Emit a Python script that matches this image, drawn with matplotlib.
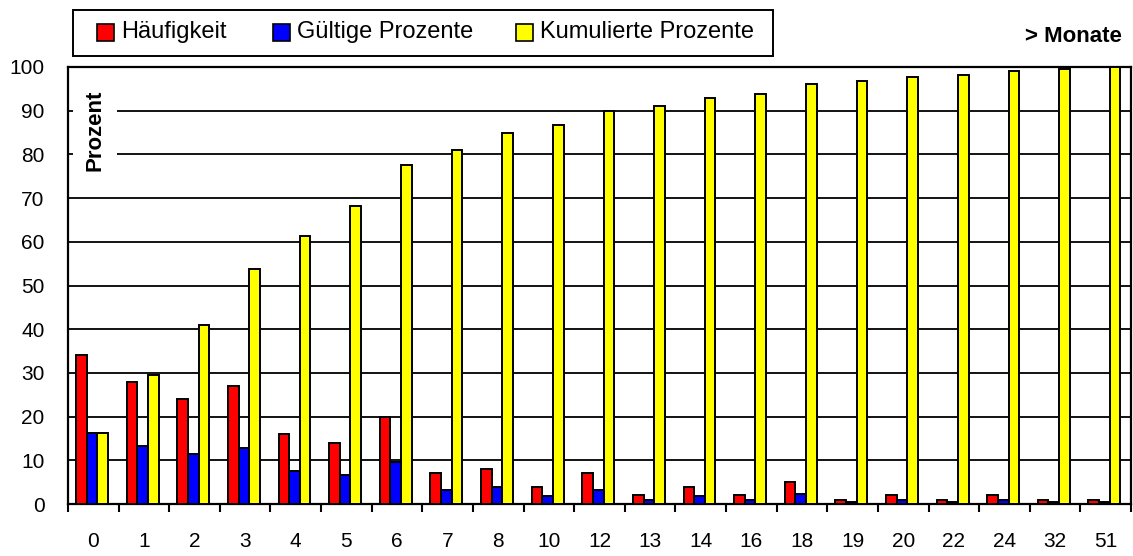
import numpy as np
import matplotlib
matplotlib.use("Agg")
import matplotlib.pyplot as plt
from matplotlib.patches import Rectangle

plt.rcParams['font.family'] = ['Liberation Sans Narrow', 'Liberation Sans', 'DejaVu Sans']

# Monate (Kategorien auf der x-Achse)
months = ["0", "1", "2", "3", "4", "5", "6", "7", "8", "10", "12",
          "13", "14", "16", "18", "19", "20", "22", "24", "32", "51"]

# Häufigkeit (rote Balken)
haeufigkeit = [34, 28, 24, 27, 16, 14, 20, 7, 8, 4, 7,
               2, 4, 2, 5, 1, 2, 1, 2, 1, 1]

# Gültige Prozente (blaue Balken)
gueltige = [16.2, 13.3, 11.4, 12.9, 7.6, 6.7, 9.5, 3.3, 3.8, 1.9, 3.3,
            1.0, 1.9, 1.0, 2.4, 0.5, 1.0, 0.5, 1.0, 0.5, 0.5]

# Kumulierte Prozente (gelbe Balken)
kumuliert = [16.2, 29.5, 41.0, 53.8, 61.4, 68.1, 77.6, 81.0, 84.8, 86.7, 90.0,
             91.0, 92.9, 93.8, 96.2, 96.7, 97.6, 98.1, 99.0, 99.5, 100.0]

series = [
    ("Häufigkeit", haeufigkeit, "#ff0000"),
    ("Gültige Prozente", gueltige, "#0000ff"),
    ("Kumulierte Prozente", kumuliert, "#ffff00"),
]

W, H = 1133, 556
fig = plt.figure(figsize=(W / 100, H / 100), dpi=100)
ax = fig.add_axes([68 / W, 1 - 504 / H, (1131 - 68) / W, (504 - 67) / H])

x = np.arange(len(months))
w = 0.21
for i, (name, vals, col) in enumerate(series):
    ax.bar(x + (i - 1) * w - 0.025, vals, width=w, color=col,
           edgecolor="black", linewidth=1.4, zorder=3)

ax.set_xlim(-0.5, len(months) - 0.5)
ax.set_ylim(0, 100)

# Gitternetz
for yv in range(10, 100, 10):
    ax.axhline(yv, color="black", linewidth=1.3, zorder=1)

ax.set_yticks(range(0, 101, 10))
ax.tick_params(axis="y", length=0, pad=17, labelsize=15)

# Teilstriche an den Kategoriegrenzen, Beschriftung in der Mitte
ax.set_xticks(np.arange(-0.5, len(months), 1))
ax.set_xticklabels([])
ax.tick_params(axis="x", which="major", direction="out", length=6, width=1.5)
ax.set_xticks(x, minor=True)
ax.set_xticklabels(months, minor=True)
ax.tick_params(axis="x", which="minor", length=0, pad=20, labelsize=15)

for s in ax.spines.values():
    s.set_linewidth(1.6)

ax.text(0.0254, 0.854, "Prozent", transform=ax.transAxes, rotation=90,
        ha="center", va="center", fontsize=16, fontweight="bold", zorder=2,
        bbox=dict(facecolor="white", edgecolor="none", pad=8))

fig.text(1122 / W, 1 - 37 / H, "> Monate", ha="right", va="center",
         fontsize=16, fontweight="bold")

# Legende von Hand gesetzt (Rahmen, Farbfelder, Texte)
fig.patches.append(Rectangle((73 / W, 1 - 56 / H), (773 - 73) / W, 46 / H,
                             transform=fig.transFigure, facecolor="white",
                             edgecolor="black", linewidth=1.4))
leg_x = [97, 273, 516]
for (name, _, col), lx in zip(series, leg_x):
    fig.patches.append(Rectangle((lx / W, 1 - 41 / H), 17 / W, 17 / H,
                                 transform=fig.transFigure, facecolor=col,
                                 edgecolor="black", linewidth=1.2))
    fig.text((lx + 24) / W, 1 - 32 / H, name, ha="left", va="center", fontsize=17)

fig.savefig("out.png", dpi=100)
